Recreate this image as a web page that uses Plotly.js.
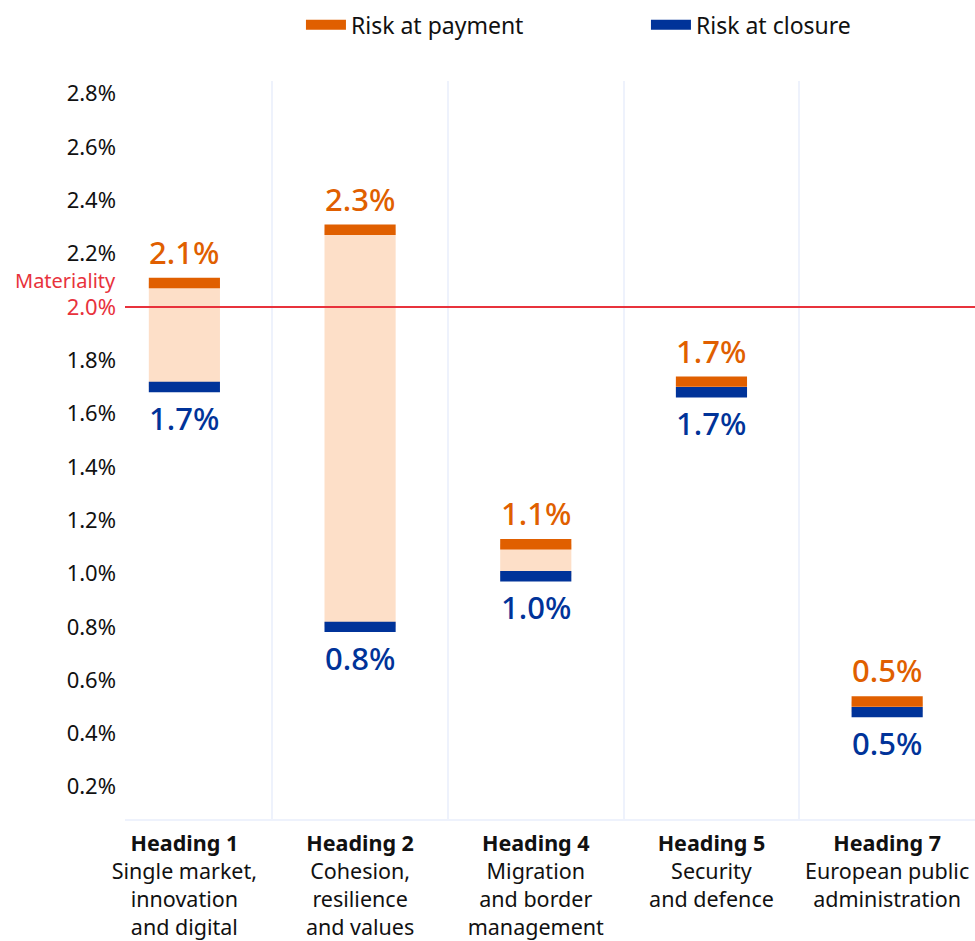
<!DOCTYPE html>
<html><head><meta charset="utf-8">
<script src="https://cdn.plot.ly/plotly-3.0.1.min.js"></script>
<style>html,body{margin:0;padding:0;background:#fff}#chart{width:975px;height:941px}</style>
</head><body><div id="chart"></div>
<script>
const categories = [
  "<b>Heading 1</b><br>Single market,<br>innovation<br>and digital",
  "<b>Heading 2</b><br>Cohesion,<br>resilience<br>and values",
  "<b>Heading 4</b><br>Migration<br>and border<br>management",
  "<b>Heading 5</b><br>Security<br>and defence",
  "<b>Heading 7</b><br>European public<br>administration"
];
const riskAtPayment = [2.09, 2.29, 1.11, 1.72, 0.52];
const riskAtClosure = [1.70, 0.80, 0.99, 1.68, 0.48];
const materiality = 2.0;
const yTicks = [0.2, 0.4, 0.6, 0.8, 1.0, 1.2, 1.4, 1.6, 1.8, 2.0, 2.2, 2.4, 2.6, 2.8];

const ORANGE = '#e05f00', BLUE = '#003399', PEACH = '#fddfc8', RED = '#e8323c';
const FONT = 'Noto Sans, sans-serif';
const BAR_W = 0.405;          // category fraction
const MARK_H = 0.039;         // marker thickness in % units (~10.5 px)

const tickText = yTicks.map(v => v === materiality
  ? '<span style="color:' + RED + '">' + v.toFixed(1) + '%</span>'
  : v.toFixed(1) + '%');

function markerBar(vals, color) {
  return { type: 'bar', x: categories, base: vals.map(v => v - MARK_H / 2),
    y: vals.map(() => MARK_H), width: BAR_W,
    marker: { color: color, line: { width: 0 } }, showlegend: false, hoverinfo: 'skip' };
}

const traces = [
  { type: 'bar', x: categories, base: riskAtClosure,
    y: riskAtPayment.map((p, i) => p - riskAtClosure[i]),
    width: BAR_W, marker: { color: PEACH, line: { width: 0 } },
    showlegend: false, hoverinfo: 'skip' },
  markerBar(riskAtPayment, ORANGE),
  markerBar(riskAtClosure, BLUE),
  { type: 'scatter', mode: 'lines', x: [null], y: [null], name: 'Risk at payment',
    legendwidth: 290, line: { color: ORANGE, width: 11 } },
  { type: 'scatter', mode: 'lines', x: [null], y: [null], name: 'Risk at closure',
    line: { color: BLUE, width: 11 } }
];

const annotations = [];
categories.forEach((c, i) => {
  annotations.push({ x: c, y: riskAtPayment[i], xref: 'x', yref: 'y', yanchor: 'bottom',
    yshift: 8, showarrow: false, text: riskAtPayment[i].toFixed(1) + '%',
    font: { family: FONT, size: 31, color: ORANGE, weight: 500 } });
  annotations.push({ x: c, y: riskAtClosure[i], xref: 'x', yref: 'y', yanchor: 'top',
    yshift: -8, showarrow: false, text: riskAtClosure[i].toFixed(1) + '%',
    font: { family: FONT, size: 31, color: BLUE, weight: 500 } });
});
annotations.push({ x: 0, xref: 'paper', xanchor: 'right', xshift: -7, y: materiality, yref: 'y',
  yanchor: 'bottom', yshift: 11, showarrow: false, text: 'Materiality',
  font: { family: FONT, size: 20, color: RED } });

const layout = {
  width: 975, height: 941,
  margin: { l: 125, r: 0, t: 81, b: 122 },
  paper_bgcolor: '#fff', plot_bgcolor: '#fff',
  font: { family: FONT, size: 20, color: '#111' },
  barmode: 'overlay',
  showlegend: true,
  legend: { orientation: 'h', x: 0.207, xanchor: 'left', y: 1.076, yanchor: 'middle',
    itemwidth: 40, font: { family: FONT, size: 23, color: '#111' } },
  xaxis: { type: 'category', range: [-0.338, 4.5], tickson: 'boundaries',
    showgrid: true, gridcolor: '#eef2fc', gridwidth: 2, ticks: '',
    showline: true, linecolor: '#eef2fc', linewidth: 2, zeroline: false, ticklabelstandoff: 4,
    tickfont: { family: FONT, size: 21.5, color: '#111' }, fixedrange: true },
  yaxis: { range: [0.079, 2.848], tickvals: yTicks, ticktext: tickText,
    showgrid: false, zeroline: false, showline: false, ticks: '', ticklabelstandoff: 8,
    tickfont: { family: FONT, size: 22, color: '#111' }, fixedrange: true },
  shapes: [{ type: 'line', xref: 'paper', x0: 0, x1: 1, yref: 'y', y0: materiality, y1: materiality,
    line: { color: RED, width: 2 } }],
  annotations: annotations
};

Plotly.newPlot('chart', traces, layout, { displayModeBar: false, staticPlot: true });
</script></body></html>
